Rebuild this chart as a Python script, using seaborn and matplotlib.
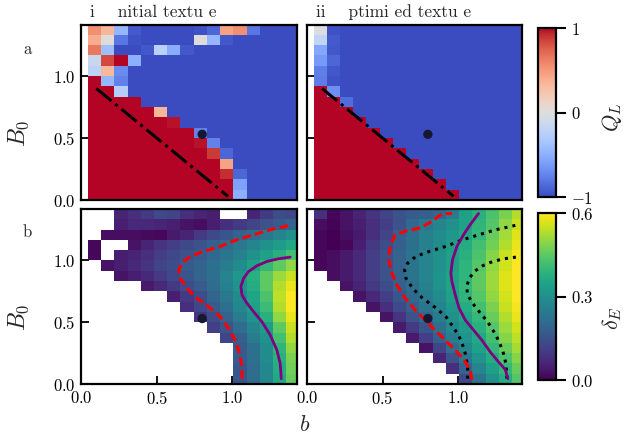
import numpy as np
import matplotlib
matplotlib.use("Agg")
import matplotlib.pyplot as plt
import seaborn as sns

nan = np.nan

# grid: cell centres in b (columns) and B0 (rows, listed top row first)
B_GRID = [0.0875, 0.175, 0.2625, 0.35, 0.4375, 0.525, 0.6125, 0.7,
          0.7875, 0.875, 0.9625, 1.05, 1.1375, 1.225, 1.3125, 1.4]
B0_GRID = [1.375, 1.2917, 1.2083, 1.125, 1.0417, 0.9583, 0.875, 0.7917, 0.7083,
           0.625, 0.5417, 0.4583, 0.375, 0.2917, 0.2083, 0.125, 0.0417]

QL_INITIAL = [
    [0.55, 0.35, -0.45, -0.93, -1, -1, -1, -1, -0.97, -0.88, 0.45, 0.55, -0.8, -1, -1, -1],
    [0.4, 0.02, -0.8, -0.97, -1, -1, -1, -1, 0.0, -0.45, -0.95, -1, -1, -1, -1, -1],
    [0.65, -0.4, -1, -1, -0.95, -0.25, -0.52, -0.95, -1, -1, -1, -1, -1, -1, -1, -1],
    [-0.15, 0.83, 1, -0.5, -1, -1, -1, -1, -1, -1, -1, -1, -1, -1, -1, -1],
    [-0.22, 0.33, -0.7, -1, -1, -1, -1, -1, -1, -1, -1, -1, -1, -1, -1, -1],
    [1, -0.45, -0.75, -1, -1, -1, -1, -1, -1, -1, -1, -1, -1, -1, -1, -1],
    [1, 1, -0.27, -1, -1, -1, -1, -1, -1, -1, -1, -1, -1, -1, -1, -1],
    [1, 1, 1, 1, -1, -1, -1, -1, -1, -1, -1, -1, -1, -1, -1, -1],
    [1, 1, 1, 1, 1, 0.35, -1, -1, -1, -1, -1, -1, -1, -1, -1, -1],
    [1, 1, 1, 1, 1, 1, 0.97, -1, -1, -1, -1, -1, -1, -1, -1, -1],
    [1, 1, 1, 1, 1, 1, 1, 1, -0.75, -1, -1, -1, -1, -1, -1, -1],
    [1, 1, 1, 1, 1, 1, 1, 1, 0.97, -0.75, -1, -1, -1, -1, -1, -1],
    [1, 1, 1, 1, 1, 1, 1, 1, 1, 0.88, -0.88, -1, -1, -1, -1, -1],
    [1, 1, 1, 1, 1, 1, 1, 1, 1, 1, 0.45, -1, -1, -1, -1, -1],
    [1, 1, 1, 1, 1, 1, 1, 1, 1, 1, 0.92, -0.88, -1, -1, -1, -1],
    [1, 1, 1, 1, 1, 1, 1, 1, 1, 1, 1, -0.58, -1, -1, -1, -1],
    [1, 1, 1, 1, 1, 1, 1, 1, 1, 1, 1, -0.5, -1, -1, -1, -1],
]

QL_OPTIMIZED = [
    [-0.02, -0.97, -1, -1, -1, -1, -1, -1, -1, -1, -1, -1, -1, -1, -1, -1],
    [-0.2, -0.93, -1, -1, -1, -1, -1, -1, -1, -1, -1, -1, -1, -1, -1, -1],
    [-0.55, -0.95, -1, -1, -1, -1, -1, -1, -1, -1, -1, -1, -1, -1, -1, -1],
    [-0.62, -0.88, -1, -1, -1, -1, -1, -1, -1, -1, -1, -1, -1, -1, -1, -1],
    [-0.76, -0.95, -1, -1, -1, -1, -1, -1, -1, -1, -1, -1, -1, -1, -1, -1],
    [-0.78, -0.97, -1, -1, -1, -1, -1, -1, -1, -1, -1, -1, -1, -1, -1, -1],
    [1, -0.68, -1, -1, -1, -1, -1, -1, -1, -1, -1, -1, -1, -1, -1, -1],
    [1, 1, -0.85, -1, -1, -1, -1, -1, -1, -1, -1, -1, -1, -1, -1, -1],
    [1, 1, 1, -1, -1, -1, -1, -1, -1, -1, -1, -1, -1, -1, -1, -1],
    [1, 1, 1, 1, -1, -1, -1, -1, -1, -1, -1, -1, -1, -1, -1, -1],
    [1, 1, 1, 1, 1, -1, -1, -1, -1, -1, -1, -1, -1, -1, -1, -1],
    [1, 1, 1, 1, 1, 1, -1, -1, -1, -1, -1, -1, -1, -1, -1, -1],
    [1, 1, 1, 1, 1, 1, 1, -1, -1, -1, -1, -1, -1, -1, -1, -1],
    [1, 1, 1, 1, 1, 1, 1, 1, -1, -1, -1, -1, -1, -1, -1, -1],
    [1, 1, 1, 1, 1, 1, 1, 1, 1, -1, -1, -1, -1, -1, -1, -1],
    [1, 1, 1, 1, 1, 1, 1, 1, 1, 1, -1, -1, -1, -1, -1, -1],
    [1, 1, 1, 1, 1, 1, 1, 1, 1, 1, 1, -1, -1, -1, -1, -1],
]

DELTA_INITIAL = [
    [nan, nan, 0.06, 0.08, 0.10, 0.13, 0.12, 0.08, 0.06, 0.05, nan, nan, 0.06, 0.10, 0.14, 0.13],
    [nan, nan, 0.05, 0.07, 0.07, 0.06, 0.05, 0.03, 0.02, 0.05, 0.08, 0.10, 0.12, 0.15, 0.17, 0.19],
    [nan, 0.02, 0.02, 0.02, 0.015, 0.01, 0.04, 0.06, 0.10, 0.13, 0.16, 0.19, 0.21, 0.24, 0.27, 0.30],
    [0.01, nan, nan, 0.03, 0.06, 0.09, 0.11, 0.13, 0.15, 0.18, 0.21, 0.24, 0.27, 0.30, 0.33, 0.36],
    [0.01, nan, 0.05, 0.06, 0.08, 0.11, 0.13, 0.15, 0.17, 0.20, 0.23, 0.26, 0.30, 0.34, 0.38, 0.42],
    [nan, 0.03, 0.05, 0.07, 0.09, 0.12, 0.14, 0.17, 0.19, 0.22, 0.25, 0.29, 0.34, 0.40, 0.45, 0.50],
    [nan, nan, 0.03, 0.05, 0.07, 0.10, 0.13, 0.16, 0.19, 0.22, 0.27, 0.32, 0.38, 0.45, 0.51, 0.55],
    [nan, nan, nan, nan, 0.04, 0.07, 0.10, 0.14, 0.17, 0.21, 0.26, 0.31, 0.37, 0.45, 0.53, 0.58],
    [nan, nan, nan, nan, nan, nan, 0.05, 0.10, 0.14, 0.19, 0.24, 0.29, 0.35, 0.43, 0.54, 0.60],
    [nan, nan, nan, nan, nan, nan, nan, 0.08, 0.13, 0.17, 0.22, 0.28, 0.34, 0.41, 0.53, 0.60],
    [nan, nan, nan, nan, nan, nan, nan, nan, 0.09, 0.14, 0.19, 0.25, 0.31, 0.38, 0.50, 0.58],
    [nan, nan, nan, nan, nan, nan, nan, nan, nan, 0.11, 0.16, 0.21, 0.27, 0.33, 0.45, 0.55],
    [nan, nan, nan, nan, nan, nan, nan, nan, nan, nan, 0.12, 0.18, 0.25, 0.31, 0.42, 0.53],
    [nan, nan, nan, nan, nan, nan, nan, nan, nan, nan, nan, 0.17, 0.22, 0.29, 0.39, 0.50],
    [nan, nan, nan, nan, nan, nan, nan, nan, nan, nan, nan, 0.17, 0.22, 0.29, 0.38, 0.48],
    [nan, nan, nan, nan, nan, nan, nan, nan, nan, nan, nan, 0.16, 0.21, 0.28, 0.37, 0.47],
    [nan, nan, nan, nan, nan, nan, nan, nan, nan, nan, nan, 0.16, 0.21, 0.28, 0.36, 0.46],
]

DELTA_OPTIMIZED = [
    [0.08, 0.01, 0.03, 0.06, 0.09, 0.12, 0.15, 0.17, 0.18, 0.20, 0.25, 0.34, 0.38, 0.43, 0.48, 0.53],
    [0.02, 0.005, 0.03, 0.05, 0.08, 0.11, 0.15, 0.20, 0.24, 0.27, 0.30, 0.34, 0.39, 0.44, 0.50, 0.55],
    [0.01, 0.0, 0.02, 0.04, 0.08, 0.12, 0.18, 0.22, 0.26, 0.29, 0.32, 0.36, 0.40, 0.46, 0.52, 0.57],
    [0.01, 0.0, 0.01, 0.05, 0.10, 0.14, 0.18, 0.22, 0.26, 0.29, 0.33, 0.37, 0.42, 0.47, 0.53, 0.58],
    [0.01, 0.02, 0.04, 0.07, 0.11, 0.15, 0.19, 0.23, 0.27, 0.30, 0.34, 0.38, 0.43, 0.49, 0.55, 0.59],
    [0.01, 0.02, 0.04, 0.07, 0.11, 0.15, 0.19, 0.23, 0.27, 0.30, 0.34, 0.39, 0.44, 0.50, 0.56, 0.60],
    [nan, 0.02, 0.04, 0.07, 0.11, 0.15, 0.19, 0.23, 0.27, 0.31, 0.35, 0.39, 0.45, 0.51, 0.57, 0.60],
    [nan, nan, 0.03, 0.06, 0.10, 0.14, 0.18, 0.22, 0.26, 0.30, 0.35, 0.40, 0.45, 0.51, 0.57, 0.60],
    [nan, nan, nan, 0.03, 0.07, 0.11, 0.16, 0.20, 0.25, 0.29, 0.34, 0.39, 0.44, 0.50, 0.56, 0.60],
    [nan, nan, nan, nan, 0.03, 0.08, 0.13, 0.18, 0.23, 0.27, 0.32, 0.37, 0.42, 0.48, 0.55, 0.59],
    [nan, nan, nan, nan, nan, 0.03, 0.09, 0.15, 0.20, 0.25, 0.30, 0.35, 0.40, 0.46, 0.53, 0.58],
    [nan, nan, nan, nan, nan, nan, 0.04, 0.10, 0.16, 0.22, 0.28, 0.33, 0.38, 0.44, 0.51, 0.56],
    [nan, nan, nan, nan, nan, nan, nan, 0.04, 0.11, 0.18, 0.25, 0.31, 0.36, 0.42, 0.49, 0.54],
    [nan, nan, nan, nan, nan, nan, nan, nan, 0.03, 0.12, 0.21, 0.28, 0.34, 0.40, 0.46, 0.52],
    [nan, nan, nan, nan, nan, nan, nan, nan, nan, 0.06, 0.15, 0.24, 0.31, 0.37, 0.43, 0.49],
    [nan, nan, nan, nan, nan, nan, nan, nan, nan, nan, 0.08, 0.19, 0.27, 0.34, 0.40, 0.46],
    [nan, nan, nan, nan, nan, nan, nan, nan, nan, nan, nan, 0.13, 0.23, 0.30, 0.37, 0.44],
]

# traced contour curves (b, B0)
RED_INIT_B = [1.063, 1.063, 1.047, 1.019, 0.974, 0.919, 0.842, 0.765, 0.699, 0.655,
              0.646, 0.666, 0.721, 0.809, 0.919, 1.030, 1.140, 1.250, 1.382]
RED_INIT_B0 = [0.043, 0.138, 0.247, 0.355, 0.450, 0.545, 0.626, 0.694, 0.775, 0.856,
               0.924, 0.978, 1.033, 1.073, 1.114, 1.168, 1.209, 1.249, 1.285]
PURPLE_INIT_B = [1.323, 1.316, 1.294, 1.250, 1.195, 1.140, 1.096, 1.063, 1.056, 1.074,
                 1.107, 1.162, 1.228, 1.305, 1.382]
PURPLE_INIT_B0 = [0.043, 0.165, 0.274, 0.396, 0.504, 0.585, 0.653, 0.721, 0.789, 0.856,
                  0.911, 0.957, 0.992, 1.014, 1.027]
RED_OPT_B = [1.091, 1.080, 1.047, 1.003, 0.948, 0.893, 0.837, 0.782, 0.716, 0.650, 0.595,
             0.558, 0.540, 0.551, 0.584, 0.650, 0.749, 0.827, 0.870, 0.903, 0.959]
RED_OPT_B0 = [0.035, 0.111, 0.179, 0.247, 0.314, 0.382, 0.450, 0.518, 0.599, 0.694, 0.802,
              0.911, 1.019, 1.114, 1.209, 1.236, 1.263, 1.317, 1.358, 1.380, 1.380]
PURPLE_OPT_B = [1.329, 1.312, 1.267, 1.212, 1.157, 1.102, 1.047, 1.007, 0.981, 0.959,
                0.952, 0.963, 0.992, 1.036, 1.080, 1.135]
PURPLE_OPT_B0 = [0.043, 0.116, 0.179, 0.260, 0.355, 0.436, 0.518, 0.612, 0.721, 0.829,
                 0.897, 1.006, 1.114, 1.209, 1.290, 1.380]
BOUNDARY_B = [0.1, 0.97]
BOUNDARY_B0 = [0.9, 0.03]
MARK_B = [0.8]
MARK_B0 = [0.53]

sns.set_style("ticks")
plt.rcParams["font.family"] = ["cmr10", "DejaVu Serif"]
plt.rcParams["mathtext.fontset"] = "cm"
plt.rcParams["axes.formatter.use_mathtext"] = True
plt.rcParams["axes.unicode_minus"] = True

W, H = 629, 436
fig = plt.figure(figsize=(W / 100, H / 100), dpi=100)


def px_rect(x0, y0, x1, y1):
    return [x0 / W, 1 - y1 / H, (x1 - x0) / W, (y1 - y0) / H]


ax_tl = fig.add_axes(px_rect(81.2, 24.5, 296.7, 200))
ax_tr = fig.add_axes(px_rect(306.9, 24.5, 522.4, 200))
ax_bl = fig.add_axes(px_rect(81.2, 209, 296.7, 384))
ax_br = fig.add_axes(px_rect(306.9, 209, 522.4, 384))
cax_top = fig.add_axes(px_rect(538, 28, 556, 197))
cax_bot = fig.add_axes(px_rect(538, 213, 556, 380))

cmap_q = sns.color_palette("coolwarm", as_cmap=True)
cmap_d = sns.color_palette("viridis", as_cmap=True)


def draw_map(ax, grid, cmap, vmin, vmax):
    vals = np.ma.masked_invalid(np.array(grid, dtype=float))
    return ax.pcolormesh(B_GRID, B0_GRID, vals, cmap=cmap, vmin=vmin, vmax=vmax,
                         shading="nearest", zorder=1)


def draw_curve(ax, xs, ys, **kw):
    sns.lineplot(x=xs, y=ys, sort=False, estimator=None, ax=ax, legend=False, **kw)


mesh_q = draw_map(ax_tl, QL_INITIAL, cmap_q, -1, 1)
draw_map(ax_tr, QL_OPTIMIZED, cmap_q, -1, 1)
mesh_d = draw_map(ax_bl, DELTA_INITIAL, cmap_d, 0, 0.6)
draw_map(ax_br, DELTA_OPTIMIZED, cmap_d, 0, 0.6)

for ax in (ax_tl, ax_tr):
    draw_curve(ax, BOUNDARY_B, BOUNDARY_B0, color="black", linewidth=2.2,
               linestyle="-.", zorder=3)

dash = (0, (2.8, 1.4))
draw_curve(ax_bl, RED_INIT_B, RED_INIT_B0, color="red", linewidth=2.2, linestyle=dash, zorder=3)
draw_curve(ax_bl, PURPLE_INIT_B, PURPLE_INIT_B0, color="purple", linewidth=2.0, zorder=3)
draw_curve(ax_br, RED_INIT_B, RED_INIT_B0, color="black", linewidth=2.2, linestyle=":", zorder=3)
draw_curve(ax_br, PURPLE_INIT_B, PURPLE_INIT_B0, color="black", linewidth=2.2, linestyle=":", zorder=3)
draw_curve(ax_br, RED_OPT_B, RED_OPT_B0, color="red", linewidth=2.2, linestyle=dash, zorder=3)
draw_curve(ax_br, PURPLE_OPT_B, PURPLE_OPT_B0, color="purple", linewidth=2.0, zorder=3)

for ax in (ax_tl, ax_tr, ax_bl, ax_br):
    sns.scatterplot(x=MARK_B, y=MARK_B0, ax=ax, color="#151830", s=45,
                    edgecolor="none", legend=False, zorder=5)
    ax.set_xlim(0, 1.425)
    ax.set_ylim(0, 17 / 12)
    ax.set_xticks([0, 0.5, 1.0])
    ax.set_yticks([0, 0.5, 1.0])
    ax.set_xlabel("")
    ax.set_ylabel("")
    ax.tick_params(direction="in", length=6, width=1.3, labelsize=12,
                   top=False, right=False, colors="black", pad=4)
    for sp in ax.spines.values():
        sp.set_visible(True)
        sp.set_linewidth(1.6)
        sp.set_color("black")

ax_tl.tick_params(labelbottom=False)
ax_tr.tick_params(labelbottom=False, labelleft=False)
ax_br.tick_params(labelleft=False)

for ax in (ax_tl, ax_bl):
    ax.set_ylabel("$B_0$", fontsize=17)
    ax.yaxis.set_label_coords(-0.235, 0.38)

ax_tl.text(0.04, 1.045, "i    nitial textu e", transform=ax_tl.transAxes,
           ha="left", va="baseline", fontsize=12.5)
ax_tr.text(0.04, 1.045, "ii    ptimi ed textu e", transform=ax_tr.transAxes,
           ha="left", va="baseline", fontsize=12.5)
fig.text(27 / W, 1 - 49 / H, "a", ha="center", va="center", fontsize=12)
fig.text(27 / W, 1 - 232 / H, "b", ha="center", va="center", fontsize=12)
fig.text(305 / W, 1 - 425 / H, "$b$", ha="center", va="center", fontsize=16)

cb_q = fig.colorbar(mesh_q, cax=cax_top, ticks=[-1, 0, 1])
cb_d = fig.colorbar(mesh_d, cax=cax_bot, ticks=[0, 0.3, 0.6])
for cb, label, ypos in ((cb_q, "$Q_L$", 0.47), (cb_d, r"$\delta_E$", 0.37)):
    cb.outline.set_linewidth(1.6)
    cb.outline.set_edgecolor("black")
    cb.ax.tick_params(length=7, width=1.5, labelsize=12, direction="out",
                      colors="black", pad=4)
    cb.set_label(label, fontsize=16)
    cb.ax.yaxis.set_label_coords(3.45, ypos)

fig.savefig("out.png", dpi=100, facecolor="white")
